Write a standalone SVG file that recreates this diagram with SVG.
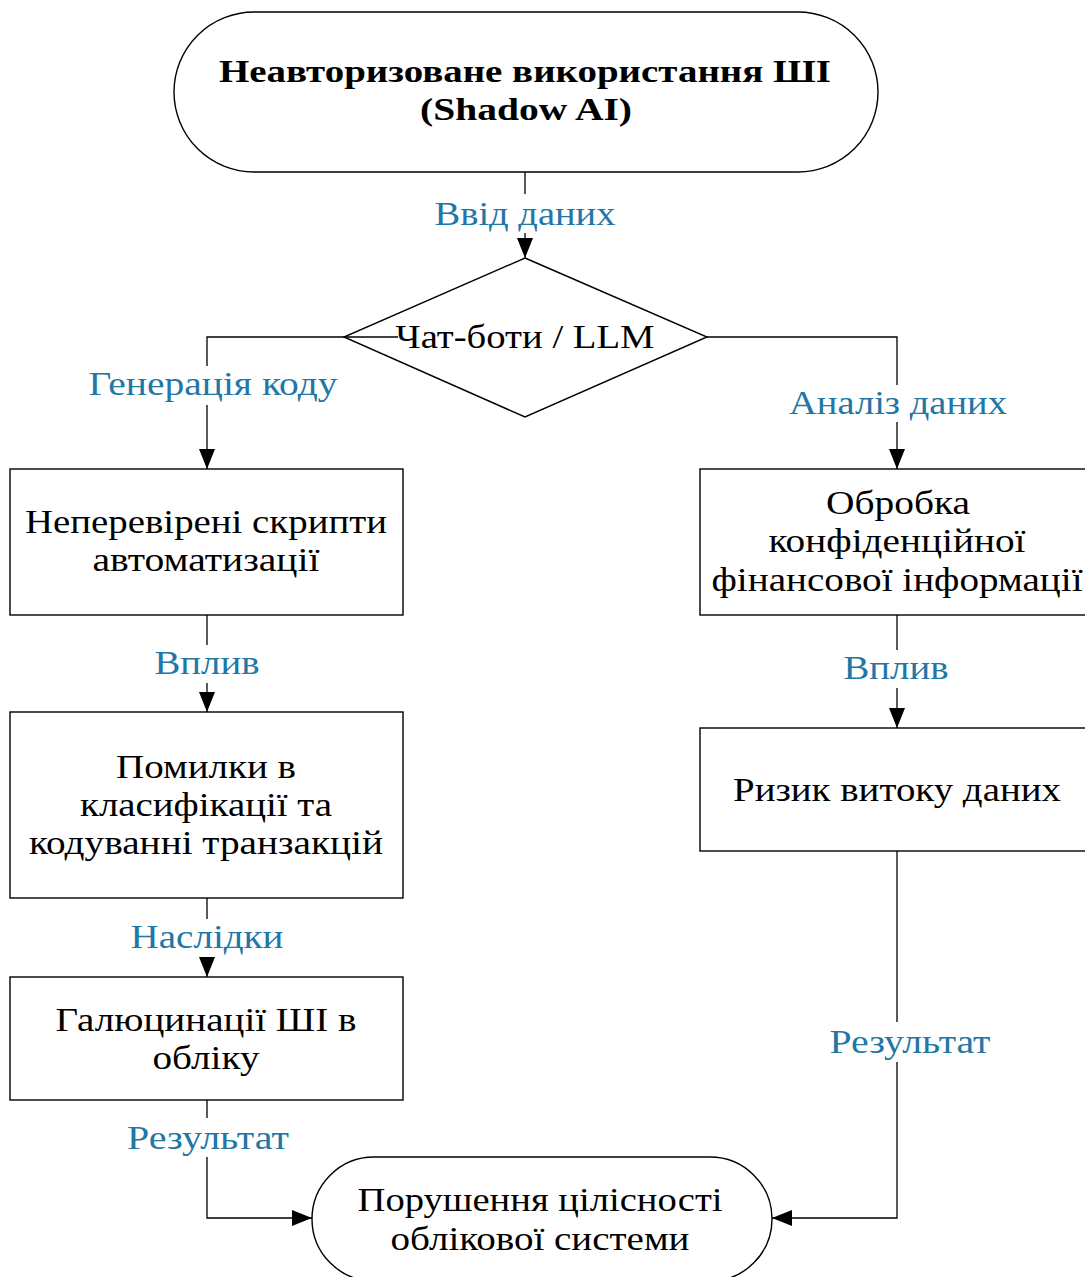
<svg xmlns="http://www.w3.org/2000/svg" width="1085" height="1277" viewBox="0 0 1085 1277">
<style>
.shape{fill:#fff;stroke:#000;stroke-width:1.4}
.conn{fill:none;stroke:#000;stroke-width:1.3}
.t{font-family:"Liberation Serif","Times New Roman",serif;font-size:33px;fill:#000;text-anchor:middle}
.b{font-weight:bold;font-size:31px}
.lbl{font-family:"Liberation Serif","Times New Roman",serif;font-size:33px;fill:#2277a6;text-anchor:middle}
</style>
<defs>
<marker id="arr" markerUnits="userSpaceOnUse" markerWidth="20" markerHeight="16" viewBox="0 0 20 16" refX="20" refY="8" orient="auto">
<path d="M0,0 L20,8 L0,16 Z" fill="#000"/>
</marker>
</defs>
<rect width="1085" height="1277" fill="#fff"/>
<g id="connectors">
<path class="conn" d="M525,172 V194"/>
<path class="conn" d="M525,233 V258" marker-end="url(#arr)"/>
<path class="conn" d="M398,337 H207 V366"/>
<path class="conn" d="M207,405 V469" marker-end="url(#arr)"/>
<path class="conn" d="M707,337 H897 V385"/>
<path class="conn" d="M897,422 V469" marker-end="url(#arr)"/>
<path class="conn" d="M207,615 V645"/>
<path class="conn" d="M207,683 V712" marker-end="url(#arr)"/>
<path class="conn" d="M897,615 V650"/>
<path class="conn" d="M897,688 V728" marker-end="url(#arr)"/>
<path class="conn" d="M207,898 V919"/>
<path class="conn" d="M207,957 V977" marker-end="url(#arr)"/>
<path class="conn" d="M207,1100 V1118"/>
<path class="conn" d="M207,1157 V1218 H312" marker-end="url(#arr)"/>
<path class="conn" d="M897,851 V1022"/>
<path class="conn" d="M897,1062 V1218 H772" marker-end="url(#arr)"/>
</g>
<g id="labels">
<text class="lbl" x="525" y="225" textLength="181" lengthAdjust="spacingAndGlyphs">Ввід даних</text>
<text class="lbl" x="213" y="395" textLength="249" lengthAdjust="spacingAndGlyphs">Генерація коду</text>
<text class="lbl" x="898" y="414" textLength="218" lengthAdjust="spacingAndGlyphs">Аналіз даних</text>
<text class="lbl" x="207" y="674" textLength="105" lengthAdjust="spacingAndGlyphs">Вплив</text>
<text class="lbl" x="896" y="679" textLength="105" lengthAdjust="spacingAndGlyphs">Вплив</text>
<text class="lbl" x="207" y="948" textLength="153" lengthAdjust="spacingAndGlyphs">Наслідки</text>
<text class="lbl" x="208" y="1149" textLength="162" lengthAdjust="spacingAndGlyphs">Результат</text>
<text class="lbl" x="910" y="1053" textLength="161" lengthAdjust="spacingAndGlyphs">Результат</text>
</g>
<g id="start">
<rect class="shape" x="174" y="12" width="704" height="160" rx="80" ry="80"/>
<text class="t b" x="525" y="82" textLength="612" lengthAdjust="spacingAndGlyphs">Неавторизоване використання ШІ</text>
<text class="t b" x="526" y="120" textLength="212" lengthAdjust="spacingAndGlyphs">(Shadow AI)</text>
</g>
<g id="decision">
<path class="shape" d="M525,258 L707,337 L525,417 L344,337 Z"/>
<path class="conn" d="M344,337 H398"/>
<text class="t" x="525" y="348" textLength="259" lengthAdjust="spacingAndGlyphs">Чат-боти / LLM</text>
</g>
<g id="scripts">
<rect class="shape" x="10" y="469" width="393" height="146"/>
<text class="t" x="206" y="533" textLength="362" lengthAdjust="spacingAndGlyphs">Неперевірені скрипти</text>
<text class="t" x="206" y="571" textLength="227" lengthAdjust="spacingAndGlyphs">автоматизації</text>
</g>
<g id="errors">
<rect class="shape" x="10" y="712" width="393" height="186"/>
<text class="t" x="206" y="778" textLength="180" lengthAdjust="spacingAndGlyphs">Помилки в</text>
<text class="t" x="206" y="816" textLength="252" lengthAdjust="spacingAndGlyphs">класифікації та</text>
<text class="t" x="206" y="854" textLength="354" lengthAdjust="spacingAndGlyphs">кодуванні транзакцій</text>
</g>
<g id="hallucinations">
<rect class="shape" x="10" y="977" width="393" height="123"/>
<text class="t" x="206" y="1031" textLength="301" lengthAdjust="spacingAndGlyphs">Галюцинації ШІ в</text>
<text class="t" x="206" y="1069" textLength="107" lengthAdjust="spacingAndGlyphs">обліку</text>
</g>
<g id="processing">
<rect class="shape" x="700" y="469" width="400" height="146"/>
<text class="t" x="898" y="514" textLength="144" lengthAdjust="spacingAndGlyphs">Обробка</text>
<text class="t" x="897" y="552" textLength="257" lengthAdjust="spacingAndGlyphs">конфіденційної</text>
<text class="t" x="897" y="591" textLength="371" lengthAdjust="spacingAndGlyphs">фінансової інформації</text>
</g>
<g id="leak">
<rect class="shape" x="700" y="728" width="400" height="123"/>
<text class="t" x="897" y="801" textLength="328" lengthAdjust="spacingAndGlyphs">Ризик витоку даних</text>
</g>
<g id="end">
<rect class="shape" x="312" y="1157" width="460" height="124" rx="62" ry="62"/>
<text class="t" x="540" y="1211" textLength="365" lengthAdjust="spacingAndGlyphs">Порушення цілісності</text>
<text class="t" x="540" y="1250" textLength="299" lengthAdjust="spacingAndGlyphs">облікової системи</text>
</g>
</svg>
